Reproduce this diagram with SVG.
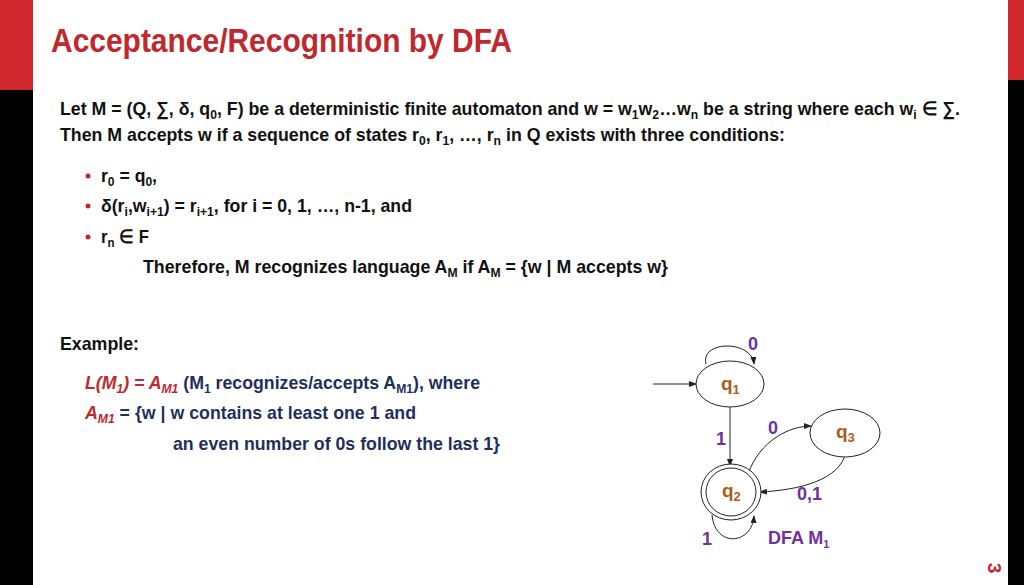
<svg xmlns="http://www.w3.org/2000/svg" width="1024" height="585" viewBox="0 0 1024 585">
<style>
text{font-family:"Liberation Sans",Arial,sans-serif;font-weight:bold}
.m{font-size:19px;fill:#111}
.b{fill:#1f2f5c}
.r{fill:#c0282d;font-style:italic}
.s{font-size:13px}
.p{fill:#7030a0;font-size:18px}
.q{fill:#b05a1a;font-size:19px}
.e{fill:#fff;stroke:#222;stroke-width:1}
.c{fill:none;stroke:#222;stroke-width:1;marker-end:url(#a)}
</style>
<defs><marker id="a" markerWidth="8" markerHeight="8" refX="7" refY="4" orient="auto" markerUnits="userSpaceOnUse"><path d="M0,1 L8,4 L0,7z" fill="#222"/></marker></defs>
<rect width="1024" height="585" fill="#fff"/>
<rect x="0" y="0" width="33" height="90" fill="#d0282e"/>
<rect x="0" y="90" width="33" height="495" fill="#000"/>
<rect x="1008" y="0" width="16" height="80" fill="#d0282e"/>
<rect x="1008" y="80" width="16" height="505" fill="#000"/>
<text x="51" y="52" font-size="33" fill="#c0282d" textLength="461" lengthAdjust="spacingAndGlyphs">Acceptance/Recognition by DFA</text>
<text class="m" x="60" y="115" textLength="900" lengthAdjust="spacingAndGlyphs">Let M = (Q, ∑, δ, q<tspan class="s" dy="4">0</tspan><tspan dy="-4">, F) be a deterministic finite automaton and w = w</tspan><tspan class="s" dy="4">1</tspan><tspan dy="-4">w</tspan><tspan class="s" dy="4">2</tspan><tspan dy="-4">…w</tspan><tspan class="s" dy="4">n</tspan><tspan dy="-4"> be a string where each w</tspan><tspan class="s" dy="4">i</tspan><tspan dy="-4"> ∈ ∑.</tspan></text>
<text class="m" x="60" y="141" textLength="725" lengthAdjust="spacingAndGlyphs">Then M accepts w if a sequence of states r<tspan class="s" dy="4">0</tspan><tspan dy="-4">, r</tspan><tspan class="s" dy="4">1</tspan><tspan dy="-4">, …, r</tspan><tspan class="s" dy="4">n</tspan><tspan dy="-4"> in Q exists with three conditions:</tspan></text>
<g font-size="19" fill="#c0282d"><circle cx="88" cy="176" r="2.5" fill="#c0282d"/><circle cx="88" cy="206" r="2.5" fill="#c0282d"/><circle cx="88" cy="237" r="2.5" fill="#c0282d"/></g>
<text class="m" x="101" y="182" textLength="56" lengthAdjust="spacingAndGlyphs">r<tspan class="s" dy="4">0</tspan><tspan dy="-4"> = q</tspan><tspan class="s" dy="4">0</tspan><tspan dy="-4">,</tspan></text>
<text class="m" x="101" y="212" textLength="311" lengthAdjust="spacingAndGlyphs">δ(r<tspan class="s" dy="4">i</tspan><tspan dy="-4">,w</tspan><tspan class="s" dy="4">i+1</tspan><tspan dy="-4">) = r</tspan><tspan class="s" dy="4">i+1</tspan><tspan dy="-4">, for i = 0, 1, …, n-1, and</tspan></text>
<text class="m" x="101" y="243" textLength="48" lengthAdjust="spacingAndGlyphs">r<tspan class="s" dy="4">n</tspan><tspan dy="-4"> ∈ F</tspan></text>
<text class="m" x="143" y="273" textLength="525" lengthAdjust="spacingAndGlyphs">Therefore, M recognizes language A<tspan class="s" dy="4">M</tspan><tspan dy="-4"> if A</tspan><tspan class="s" dy="4">M</tspan><tspan dy="-4"> = {w | M accepts w}</tspan></text>
<text class="m" x="60" y="350" textLength="79" lengthAdjust="spacingAndGlyphs">Example:</text>
<text class="m b" x="85" y="389" textLength="395" lengthAdjust="spacingAndGlyphs"><tspan class="r">L(M</tspan><tspan class="r s" dy="4">1</tspan><tspan class="r" dy="-4">) = A</tspan><tspan class="r s" dy="4">M1</tspan><tspan dy="-4"> (M</tspan><tspan class="s" dy="4">1</tspan><tspan dy="-4"> recognizes/accepts A</tspan><tspan class="s" dy="4">M1</tspan><tspan dy="-4">), where</tspan></text>
<text class="m b" x="85" y="419" textLength="331" lengthAdjust="spacingAndGlyphs"><tspan class="r">A</tspan><tspan class="r s" dy="4">M1</tspan><tspan dy="-4"> = {w | w contains at least one 1 and</tspan></text>
<text class="m b" x="173" y="450" textLength="327" lengthAdjust="spacingAndGlyphs">an even number of 0s follow the last 1}</text>
<text x="993" y="563" font-size="19" fill="#c0282d" transform="rotate(90 988 563)" text-anchor="middle">3</text>
<g id="connectors">
<line class="c" x1="653" y1="384" x2="696" y2="384"/>
<path class="c" d="M706,364 C700,340 752,340 754,364"/>
<line class="c" x1="730" y1="407" x2="730" y2="466"/>
<path class="c" d="M748,474 C760,440 790,426 811,426"/>
<path class="c" d="M846,452 C840,480 800,490 760,492"/>
<path class="c" d="M712,515 C715,548 752,545 754,516"/>
</g>
<g id="q1"><ellipse class="e" cx="730" cy="384" rx="34" ry="23"/><text class="q" x="721" y="390">q<tspan class="s" dy="4">1</tspan></text></g>
<g id="q3"><ellipse class="e" cx="845" cy="433" rx="35" ry="24"/><text class="q" x="836" y="438">q<tspan class="s" dy="4">3</tspan></text></g>
<g id="q2"><ellipse class="e" cx="731" cy="492" rx="30" ry="28"/><ellipse class="e" cx="731" cy="492" rx="25" ry="24"/><text class="q" x="722" y="497">q<tspan class="s" dy="4">2</tspan></text></g>
<g id="labels">
<text class="p" x="748" y="350">0</text>
<text class="p" x="716" y="445">1</text>
<text class="p" x="768" y="434">0</text>
<text class="p" x="797" y="500">0,1</text>
<text class="p" x="702" y="545">1</text>
<text class="p" x="768" y="544" font-size="16">DFA M<tspan font-size="11" dy="4">1</tspan></text>
</g>
</svg>
